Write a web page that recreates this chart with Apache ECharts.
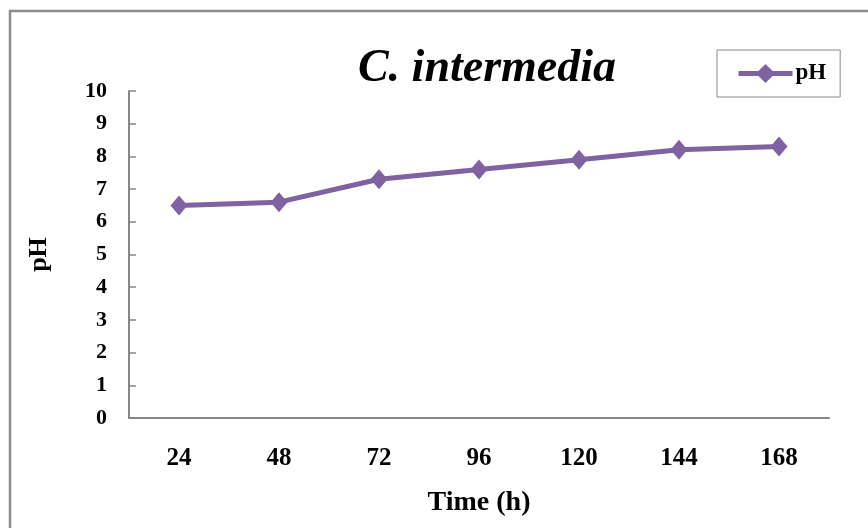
<!DOCTYPE html>
<html>
<head>
<meta charset="utf-8">
<script src="https://cdn.jsdelivr.net/npm/echarts@6/dist/echarts.min.js"></script>
<style>
  html, body { margin: 0; padding: 0; background: #fff; }
  #chart { width: 868px; height: 528px; }
</style>
</head>
<body>
<div id="chart"></div>
<script>
// Sampling times (hours) and measured pH
const timeLabels = ['24', '48', '72', '96', '120', '144', '168'];
const phValues = [6.5, 6.6, 7.3, 7.6, 7.9, 8.2, 8.3];
const seriesName = 'pH';
const chartTitle = 'C. intermedia';

const FONT = '"Liberation Serif", "Times New Roman", serif';
const AXIS_GREY = '#878787';
const PURPLE = '#7f62a1';

const chart = echarts.init(document.getElementById('chart'), null, { renderer: 'canvas' });

chart.setOption({
  animation: false,
  backgroundColor: '#fff',
  title: {
    text: chartTitle,
    left: 482,
    top: 41,
    textAlign: 'center',
    textStyle: {
      fontFamily: FONT,
      fontStyle: 'italic',
      fontWeight: 'bold',
      fontSize: 46,
      color: '#000'
    }
  },
  legend: {
    data: [seriesName],
    left: 717,
    top: 50,
    orient: 'vertical',
    itemWidth: 54,
    itemHeight: 24,
    itemGap: 0,
    padding: [12, 14, 12, 19],
    borderColor: '#888',
    borderWidth: 1,
    lineStyle: { width: 5, color: PURPLE },
    itemStyle: { color: PURPLE },
    textStyle: {
      fontFamily: FONT,
      fontWeight: 'bold',
      fontSize: 23,
      color: '#000',
      padding: [0, 0, 0, -2]
    }
  },
  graphic: [{
    type: 'rect',
    shape: { x: 10, y: 11, width: 900, height: 600 },
    style: { fill: 'none', stroke: '#8c8c8c', lineWidth: 2.5 },
    silent: true,
    z: -1
  }],
  grid: {
    left: 129,
    right: 39,
    top: 91,
    bottom: 110,
    containLabel: false,
    outerBoundsMode: 'none'
  },
  xAxis: {
    type: 'category',
    data: timeLabels,
    boundaryGap: true,
    name: 'Time (h)',
    nameLocation: 'middle',
    nameGap: 71,
    nameMoveOverlap: false,
    nameTextStyle: {
      fontFamily: FONT,
      fontWeight: 'bold',
      fontSize: 28,
      color: '#000'
    },
    axisLine: { lineStyle: { color: AXIS_GREY, width: 2 } },
    axisTick: { inside: true, length: 7, lineStyle: { color: AXIS_GREY, width: 1.5 } },
    axisLabel: {
      margin: 28,
      fontFamily: FONT,
      fontWeight: 'bold',
      fontSize: 25,
      color: '#000'
    },
    splitLine: { show: false }
  },
  yAxis: {
    type: 'value',
    min: 0,
    max: 10,
    interval: 1,
    name: 'pH',
    nameLocation: 'middle',
    nameGap: 77,
    nameRotate: 90,
    nameMoveOverlap: false,
    nameTextStyle: {
      fontFamily: FONT,
      fontWeight: 'bold',
      fontSize: 26,
      color: '#000'
    },
    axisLine: { show: true, lineStyle: { color: AXIS_GREY, width: 2 } },
    axisTick: { show: true, inside: true, length: 7, lineStyle: { color: AXIS_GREY, width: 1.5 } },
    axisLabel: {
      margin: 22,
      fontFamily: FONT,
      fontWeight: 'bold',
      fontSize: 22,
      color: '#000'
    },
    splitLine: { show: false }
  },
  series: [{
    name: seriesName,
    type: 'line',
    data: phValues,
    symbol: 'diamond',
    symbolSize: [17, 20],
    lineStyle: { color: PURPLE, width: 5 },
    itemStyle: { color: PURPLE },
    emphasis: { disabled: true }
  }]
});
</script>
</body>
</html>
